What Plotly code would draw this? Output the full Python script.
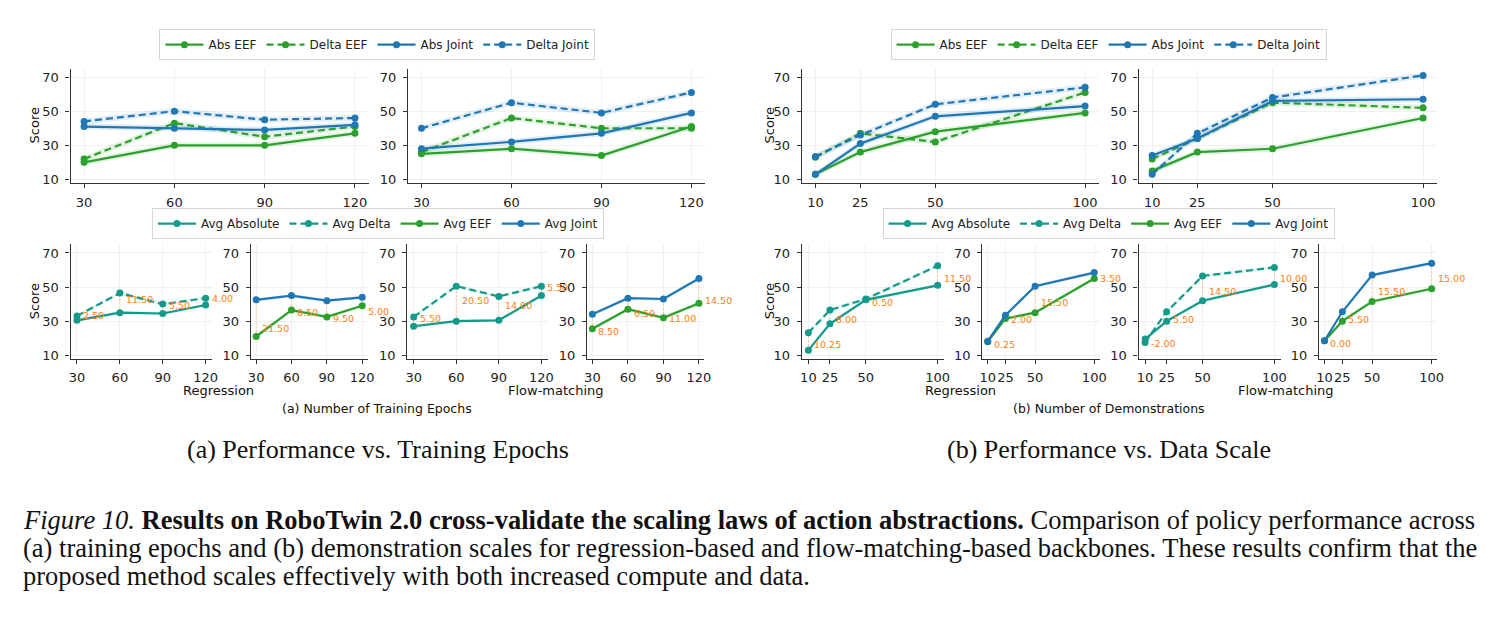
import plotly.graph_objects as go

# ---------------- data ----------------
epochs = [30, 60, 90, 120]
demos = [10, 25, 50, 100]
ep_ticks = [30, 60, 90, 120]
demo_ticks = [10, 25, 50, 100]
y_ticks = [10, 30, 50, 70]

# (a) training epochs, regression
reg_ep_abs_eef = [20, 30, 30, 37]
reg_ep_delta_eef = [22, 43, 35, 41]
reg_ep_abs_joint = [41, 40, 39, 42]
reg_ep_delta_joint = [44, 50, 45, 46]
# (a) training epochs, flow-matching
flow_ep_abs_eef = [25, 28, 24, 41]
flow_ep_delta_eef = [26, 46, 40, 40]
flow_ep_abs_joint = [28, 32, 37, 49]
flow_ep_delta_joint = [40, 55, 49, 61]
# (b) demonstrations, regression
reg_demo_abs_eef = [13, 26, 38, 49]
reg_demo_delta_eef = [23, 37, 32, 61]
reg_demo_abs_joint = [13, 31, 47, 53]
reg_demo_delta_joint = [23.5, 36, 54, 64]
# (b) demonstrations, flow-matching
flow_demo_abs_eef = [15, 26, 28, 46]
flow_demo_delta_eef = [22, 34, 55, 52]
flow_demo_abs_joint = [24, 34, 56, 57]
flow_demo_delta_joint = [13, 37, 58, 71]

# averaged panels
reg_ep_avg_abs = [30.5, 35, 34.5, 39.5]
reg_ep_avg_delta = [33, 46.5, 40, 43.5]
reg_ep_gap_ad = [2.50, 11.50, 5.50, 4.00]
reg_ep_avg_eef = [21, 36.5, 32.5, 39]
reg_ep_avg_joint = [42.5, 45, 42, 44]
reg_ep_gap_ej = [21.50, 8.50, 9.50, 5.00]

flow_ep_avg_abs = [27, 30, 30.5, 45]
flow_ep_avg_delta = [32.5, 50.5, 44.5, 50.5]
flow_ep_gap_ad = [5.50, 20.50, 14.00, 5.50]
flow_ep_avg_eef = [25.5, 37, 32, 40.5]
flow_ep_avg_joint = [34, 43.5, 43, 55]
flow_ep_gap_ej = [8.50, 6.50, 11.00, 14.50]

reg_demo_avg_abs = [13, 28.5, 42.5, 51]
reg_demo_avg_delta = [23.25, 36.5, 43, 62.5]
reg_demo_gap_ad = [10.25, 8.00, 0.50, 11.50]
reg_demo_avg_eef = [18, 31.5, 35, 55]
reg_demo_avg_joint = [18.25, 33.5, 50.5, 58.5]
reg_demo_gap_ej = [0.25, 2.00, 15.50, 3.50]

flow_demo_avg_abs = [19.5, 30, 42, 51.5]
flow_demo_avg_delta = [17.5, 35.5, 56.5, 61.5]
flow_demo_gap_ad = [-2.00, 5.50, 14.50, 10.00]
flow_demo_avg_eef = [18.5, 30, 41.5, 49]
flow_demo_avg_joint = [18.5, 35.5, 57, 64]
flow_demo_gap_ej = [0.00, 5.50, 15.50, 15.00]

# ---------------- style ----------------
W, H = 1491, 621
GREEN = '#2ca02c'
BLUE = '#1f77b4'
TEAL = '#139a8a'
ORANGE = '#ff7f0e'
FONT = 'DejaVu Sans'
TXT = '#222222'
DASH = '7px,4px'


def rgba(hx, a):
    hx = hx.lstrip('#')
    r, g, b = int(hx[0:2], 16), int(hx[2:4], 16), int(hx[4:6], 16)
    return f'rgba({r},{g},{b},{a})'


fig = go.Figure()

# panel geometry (pixels): (left, right, top, bottom)
TOP = (69, 184)
BOT = (246, 361)
panels = {
    1: (68, 368, TOP, [25.5, 124.5], ep_ticks),
    2: (407.7, 706.7, TOP, [25.5, 124.5], ep_ticks),
    3: (804.3, 1103, TOP, [5.5, 104.5], demo_ticks),
    4: (1143.3, 1443.3, TOP, [5.5, 104.5], demo_ticks),
    5: (68, 210.5, BOT, [25.5, 124.5], ep_ticks),
    6: (249.5, 367, BOT, [25.5, 124.5], ep_ticks),
    7: (407, 548.5, BOT, [25.5, 124.5], ep_ticks),
    8: (588, 706, BOT, [25.5, 124.5], ep_ticks),
    9: (804.3, 947.5, BOT, [5.5, 104.5], demo_ticks),
    10: (986, 1104, BOT, [5.5, 104.5], demo_ticks),
    11: (1143.3, 1286.5, BOT, [5.5, 104.5], demo_ticks),
    12: (1325, 1443.7, BOT, [5.5, 104.5], demo_ticks),
}

for i, (l, r, (t, b), xr, tv) in panels.items():
    sfx = '' if i == 1 else str(i)
    fig.update_layout(**{
        f'xaxis{sfx}': dict(
            domain=[l / W, r / W], anchor=f'y{sfx}', range=xr,
            tickmode='array', tickvals=tv, ticktext=[str(v) for v in tv],
            tickangle=0, showline=True, linecolor='#333333', linewidth=1.3,
            ticks='outside', ticklen=4, tickwidth=1.1, tickcolor='#333333',
            showgrid=True, gridcolor='#f0f0f0', gridwidth=0.8, zeroline=False,
            tickfont=dict(family=FONT, size=13, color=TXT), ticklabelstandoff=3,
        ),
        f'yaxis{sfx}': dict(
            domain=[1 - b / H, 1 - t / H], anchor=f'x{sfx}', range=[8, 75],
            tickmode='array', tickvals=y_ticks, ticktext=[str(v) for v in y_ticks],
            showline=True, linecolor='#333333', linewidth=1.3,
            ticks='outside', ticklen=4, tickwidth=1.1, tickcolor='#333333',
            showgrid=True, gridcolor='#f0f0f0', gridwidth=0.8, zeroline=False,
            tickfont=dict(family=FONT, size=13, color=TXT), ticklabelstandoff=4,
        ),
    })


def ax(i):
    return ('x' if i == 1 else f'x{i}'), ('y' if i == 1 else f'y{i}')


def series(i, x, y, color, name, dashed, band, legend, showleg):
    xa, ya = ax(i)
    fig.add_trace(go.Scatter(
        x=list(x) + list(x)[::-1],
        y=[v + band for v in y] + [v - band for v in y][::-1],
        fill='toself', fillcolor=rgba(color, 0.12), line=dict(width=0),
        mode='lines', hoverinfo='skip', showlegend=False, xaxis=xa, yaxis=ya))
    fig.add_trace(go.Scatter(
        x=x, y=y, mode='lines+markers', name=name,
        line=dict(color=color, width=2.2, dash=DASH if dashed else 'solid'),
        marker=dict(color=color, size=7),
        showlegend=showleg, legend=legend, xaxis=xa, yaxis=ya))


def gaps(i, x, y1, y2, labels, yshift):
    xa, ya = ax(i)
    for xv, a, b, lab in zip(x, y1, y2, labels):
        fig.add_trace(go.Scatter(
            x=[xv, xv], y=[a, b], mode='lines',
            line=dict(color=rgba(ORANGE, 0.45), width=1, dash='2px,2px'),
            showlegend=False, hoverinfo='skip', xaxis=xa, yaxis=ya))
        fig.add_annotation(
            x=xv, y=(a + b) / 2, xref=xa, yref=ya, text=f'{lab:.2f}',
            showarrow=False, xanchor='left', yanchor='middle', xshift=4,
            yshift=yshift, font=dict(family=FONT, size=9.5, color=ORANGE))


TB = 1.8
# top row
series(1, epochs, reg_ep_abs_eef, GREEN, 'Abs EEF', False, TB, 'legend', True)
series(1, epochs, reg_ep_delta_eef, GREEN, 'Delta EEF', True, TB, 'legend', True)
series(1, epochs, reg_ep_abs_joint, BLUE, 'Abs Joint', False, TB, 'legend', True)
series(1, epochs, reg_ep_delta_joint, BLUE, 'Delta Joint', True, TB, 'legend', True)

series(2, epochs, flow_ep_abs_eef, GREEN, 'Abs EEF', False, TB, 'legend', False)
series(2, epochs, flow_ep_delta_eef, GREEN, 'Delta EEF', True, TB, 'legend', False)
series(2, epochs, flow_ep_abs_joint, BLUE, 'Abs Joint', False, TB, 'legend', False)
series(2, epochs, flow_ep_delta_joint, BLUE, 'Delta Joint', True, TB, 'legend', False)

series(3, demos, reg_demo_abs_eef, GREEN, 'Abs EEF', False, TB, 'legend3', True)
series(3, demos, reg_demo_delta_eef, GREEN, 'Delta EEF', True, TB, 'legend3', True)
series(3, demos, reg_demo_abs_joint, BLUE, 'Abs Joint', False, TB, 'legend3', True)
series(3, demos, reg_demo_delta_joint, BLUE, 'Delta Joint', True, TB, 'legend3', True)

series(4, demos, flow_demo_abs_eef, GREEN, 'Abs EEF', False, TB, 'legend3', False)
series(4, demos, flow_demo_delta_eef, GREEN, 'Delta EEF', True, TB, 'legend3', False)
series(4, demos, flow_demo_abs_joint, BLUE, 'Abs Joint', False, TB, 'legend3', False)
series(4, demos, flow_demo_delta_joint, BLUE, 'Delta Joint', True, TB, 'legend3', False)

BB = 1.0
# bottom row, left
gaps(5, epochs, reg_ep_avg_abs, reg_ep_avg_delta, reg_ep_gap_ad, 3)
series(5, epochs, reg_ep_avg_abs, TEAL, 'Avg Absolute', False, BB, 'legend2', True)
series(5, epochs, reg_ep_avg_delta, TEAL, 'Avg Delta', True, BB, 'legend2', True)
gaps(6, epochs, reg_ep_avg_eef, reg_ep_avg_joint, reg_ep_gap_ej, -10)
series(6, epochs, reg_ep_avg_eef, GREEN, 'Avg EEF', False, BB, 'legend2', True)
series(6, epochs, reg_ep_avg_joint, BLUE, 'Avg Joint', False, BB, 'legend2', True)
gaps(7, epochs, flow_ep_avg_abs, flow_ep_avg_delta, flow_ep_gap_ad, 3)
series(7, epochs, flow_ep_avg_abs, TEAL, 'Avg Absolute', False, BB, 'legend2', False)
series(7, epochs, flow_ep_avg_delta, TEAL, 'Avg Delta', True, BB, 'legend2', False)
gaps(8, epochs, flow_ep_avg_eef, flow_ep_avg_joint, flow_ep_gap_ej, -10)
series(8, epochs, flow_ep_avg_eef, GREEN, 'Avg EEF', False, BB, 'legend2', False)
series(8, epochs, flow_ep_avg_joint, BLUE, 'Avg Joint', False, BB, 'legend2', False)

# bottom row, right
gaps(9, demos, reg_demo_avg_abs, reg_demo_avg_delta, reg_demo_gap_ad, -3)
series(9, demos, reg_demo_avg_abs, TEAL, 'Avg Absolute', False, BB, 'legend4', True)
series(9, demos, reg_demo_avg_delta, TEAL, 'Avg Delta', True, BB, 'legend4', True)
gaps(10, demos, reg_demo_avg_eef, reg_demo_avg_joint, reg_demo_gap_ej, -3)
series(10, demos, reg_demo_avg_eef, GREEN, 'Avg EEF', False, BB, 'legend4', True)
series(10, demos, reg_demo_avg_joint, BLUE, 'Avg Joint', False, BB, 'legend4', True)
gaps(11, demos, flow_demo_avg_abs, flow_demo_avg_delta, flow_demo_gap_ad, -3)
series(11, demos, flow_demo_avg_abs, TEAL, 'Avg Absolute', False, BB, 'legend4', False)
series(11, demos, flow_demo_avg_delta, TEAL, 'Avg Delta', True, BB, 'legend4', False)
gaps(12, demos, flow_demo_avg_eef, flow_demo_avg_joint, flow_demo_gap_ej, -3)
series(12, demos, flow_demo_avg_eef, GREEN, 'Avg EEF', False, BB, 'legend4', False)
series(12, demos, flow_demo_avg_joint, BLUE, 'Avg Joint', False, BB, 'legend4', False)

# legends
leg_common = dict(orientation='h', xanchor='center', yanchor='middle',
                  bgcolor='white', bordercolor='#d6d6d6', borderwidth=1,
                  font=dict(family=FONT, size=12, color=TXT), itemsizing='trace',
                  itemwidth=38)
fig.update_layout(
    legend=dict(x=377 / W, y=1 - 45 / H, **leg_common),
    legend2=dict(x=377.5 / W, y=1 - 225 / H, **leg_common),
    legend3=dict(x=1113 / W, y=1 - 45 / H, **leg_common),
    legend4=dict(x=1113 / W, y=1 - 225 / H, **leg_common),
)


def text(x, y, s, size, family=FONT, angle=0, anchor='center'):
    fig.add_annotation(x=x / W, y=1 - y / H, xref='paper', yref='paper', text=s,
                       showarrow=False, xanchor=anchor, yanchor='middle',
                       textangle=angle,
                       font=dict(family=family, size=size, color='#111111'))


# y titles
for xp, (t, b) in [(32, TOP), (772, TOP), (32, BOT), (772, BOT)]:
    text(xp, (t + b) / 2, 'Score', 13, angle=-90)

text(217, 393, 'Regression', 13)
text(557, 393, 'Flow-matching', 13)
text(964, 393, 'Regression', 13)
text(1292, 393, 'Flow-matching', 13)
text(376.5, 411, '(a) Number of Training Epochs', 12.5)
text(1113, 411, '(b) Number of Demonstrations', 12.5)

SERIF = 'Liberation Serif'
text(378, 452, '(a) Performance vs. Training Epochs', 26, family=SERIF)
text(1113, 452, '(b) Performance vs. Data Scale', 26, family=SERIF)

text(18, 523, '<i>Figure 10.</i> <b>Results on RoboTwin 2.0 cross-validate the scaling laws of action abstractions.</b> '
     'Comparison of policy performance across', 26.5, family=SERIF, anchor='left')
text(18, 552, '(a) training epochs and (b) demonstration scales for regression-based and flow-matching-based backbones. '
     'These results confirm that the', 26.5, family=SERIF, anchor='left')
text(18, 580, 'proposed method scales effectively with both increased compute and data.', 26.5,
     family=SERIF, anchor='left')

fig.update_layout(width=W, height=H, margin=dict(l=0, r=0, t=0, b=0),
                  paper_bgcolor='white', plot_bgcolor='white', showlegend=True)

fig.write_html('out.html')
